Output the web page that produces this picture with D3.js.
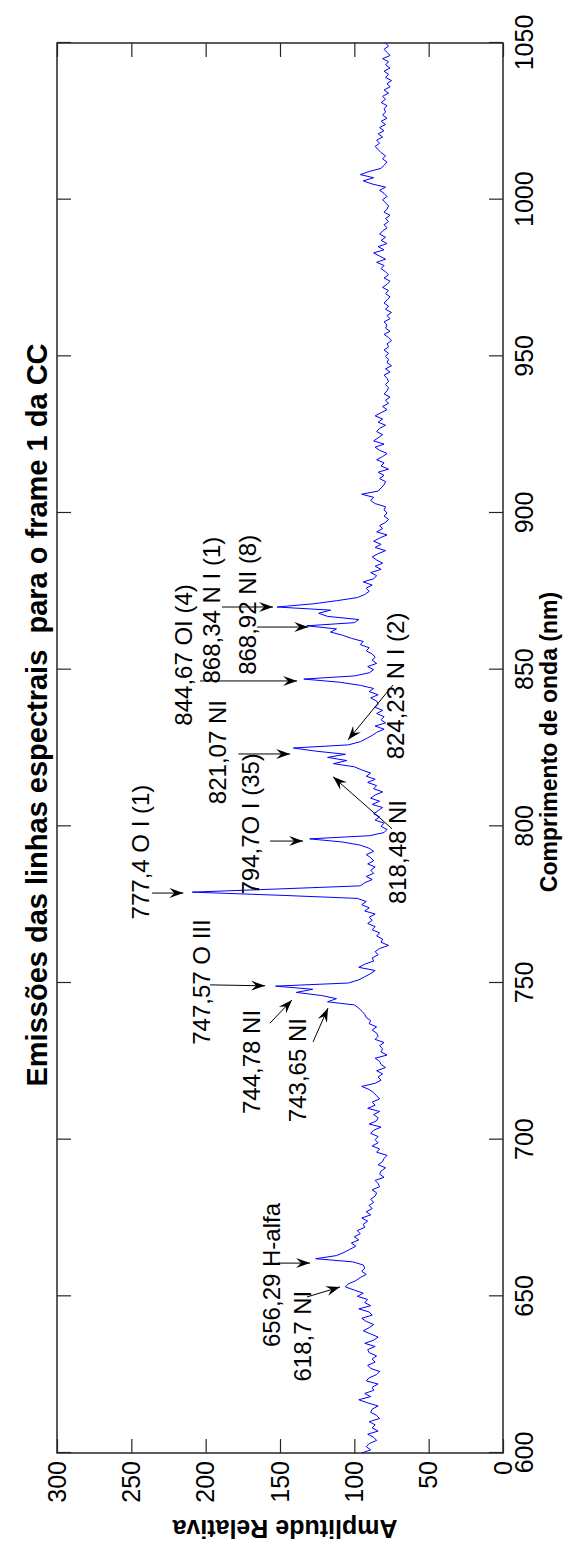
<!DOCTYPE html>
<html>
<head>
<meta charset="utf-8">
<script src="https://cdn.jsdelivr.net/npm/d3@7"></script>
<style>
  body { margin: 0; background: #fff; }
  svg { display: block; }
  text { font-family: "Liberation Sans", Arial, Helvetica, sans-serif; white-space: pre; }
</style>
</head>
<body>
<svg id="chart" width="569" height="1544"></svg>
<script>
// Spectrum sampled every 1 nm from 600 nm to 1050 nm
const startNm = 600;
const stepNm = 1;
const amplitude = [
  95, 89, 92, 90, 85, 87, 91, 84, 88, 86,
  90, 83, 85, 89, 88, 84, 91, 97, 89, 93,
  87, 88, 84, 92, 90, 85, 83, 89, 91, 86,
  88, 85, 90, 91, 86, 93, 87, 84, 89, 94,
  90, 87, 92, 95, 88, 90, 97, 89, 93, 91,
  98, 94, 100, 106, 104, 99, 96, 92, 95, 93,
  94, 101, 126, 112, 107, 103, 99, 102, 97, 100,
  96, 98, 93, 94, 91, 95, 89, 92, 88, 90,
  87, 89, 86, 85, 88, 83, 84, 86, 80, 83,
  82, 79, 84, 81, 80, 78, 85, 83, 88, 84,
  86, 84, 89, 87, 82, 90, 85, 84, 87, 83,
  91, 86, 88, 83, 85, 87, 90, 95, 86, 82,
  84, 81, 85, 79, 82, 83, 86, 78, 82, 81,
  83, 80, 86, 84, 85, 88, 85, 90, 89, 92,
  93, 95, 97, 100, 118, 112, 122, 139, 128, 153,
  104, 97, 93, 89, 86, 97, 93, 87, 88, 84,
  86, 83, 77, 82, 81, 85, 83, 88, 86, 91,
  88, 90, 86, 93, 90, 95, 92, 98, 150, 209,
  152, 96, 93, 88, 92, 87, 89, 86, 91, 87,
  89, 92, 87, 90, 96, 108, 130, 90, 80, 78,
  82, 80, 86, 83, 87, 84, 81, 88, 83, 89,
  86, 81, 87, 85, 91, 86, 92, 89, 95, 100,
  114, 105, 118, 106, 126, 141, 104, 96, 92, 88,
  85, 80, 86, 79, 82, 80, 85, 81, 86, 84,
  85, 89, 84, 90, 87, 96, 110, 134, 100, 90,
  87, 91, 85, 88, 86, 88, 92, 90, 96, 94,
  102, 108, 116, 112, 132, 100, 97, 118, 124, 116,
  152, 128, 112, 98, 93, 90, 92, 88, 94, 87,
  85, 89, 82, 86, 81, 85, 88, 84, 79, 86,
  82, 87, 83, 78, 85, 81, 83, 79, 77, 80,
  78, 80, 79, 86, 89, 87, 95, 84, 82, 80,
  79, 83, 80, 84, 77, 82, 80, 85, 81, 78,
  83, 86, 80, 87, 84, 81, 85, 83, 79, 84,
  81, 86, 82, 78, 81, 77, 79, 76, 80, 78,
  77, 79, 77, 78, 80, 76, 79, 75, 78, 77,
  79, 77, 80, 77, 78, 75, 77, 80, 76, 79,
  78, 80, 76, 78, 75, 79, 77, 80, 78, 76,
  79, 77, 81, 78, 76, 80, 77, 79, 82, 80,
  85, 79, 83, 87, 80, 84, 78, 82, 79, 83,
  81, 78, 80, 77, 79, 76, 80, 78, 77, 79,
  81, 78, 80, 83, 79, 88, 94, 87, 96, 90,
  82, 80, 78, 81, 79, 82, 84, 86, 83, 85,
  81, 84, 80, 83, 79, 82, 78, 81, 79, 80,
  78, 82, 79, 81, 77, 80, 76, 78, 75, 79,
  77, 80, 76, 79, 77, 81, 76, 78, 80, 77,
  79
];

const wavelengthTicks = [600, 650, 700, 750, 800, 850, 900, 950, 1000, 1050];
const amplitudeTicks = [0, 50, 100, 150, 200, 250, 300];

// Emission line labels: text centre, arrow tail and arrow head in (nm, amplitude)
const lineLabels = [
  "618,7 NI", "656,29 H-alfa", "743,65 NI", "744,78 NI", "747,57 O III",
  "777,4 O I (1)", "794,7O I (35)", "818,48 NI", "821,07 NI", "824,23 N I (2)",
  "844,67 OI (4)", "868,34 N I (1)", "868,92 NI (8)"
];
const labelCentre = [
  [637.3, 135], [656.8, 156], [722.2, 138], [724.8, 169], [750.3, 203],
  [791.8, 244], [800.8, 170], [791.8, 71], [823.7, 192], [844.8, 72.6],
  [854.7, 215], [869.0, 196], [870.7, 172]
];
const arrowTail = [
  [649.8, 131.8], [660.6, 151.3], [731.2, 127.8], [737.2, 156.7], [749.4, 197],
  [778.7, 236], [795.3, 156.7], [799.2, 74.6], [823.1, 178], [845.1, 74],
  [846.4, 203.8], [870.0, 189], [863.6, 165.4]
];
const arrowHead = [
  [653.0, 109.6], [660.6, 129.8], [742.0, 117.7], [744.6, 141.9], [749.1, 160],
  [778.7, 215], [795.3, 134.5], [815.8, 114.3], [823.1, 143.2], [827.6, 104.2],
  [846.4, 138.5], [870.0, 154.7], [863.6, 131]
];

const titleText = "Emissões das linhas espectrais  para o frame 1 da CC";
const xLabel = "Comprimento de onda (nm)";
const yLabel = "Amplitude Relativa";

// The chart is laid out landscape (W x H) and turned a quarter turn
const W = 1544, H = 569;
const frame = { left: 91, right: 1501, top: 57, bottom: 503 };

const svg = d3.select("#chart");
svg.append("rect").attr("width", 569).attr("height", 1544).attr("fill", "#fff");

const g = svg.append("g").attr("transform", `translate(0,${W}) rotate(-90)`);

const x = d3.scaleLinear().domain([600, 1050]).range([frame.left, frame.right]);
const y = d3.scaleLinear().domain([0, 300]).range([frame.bottom, frame.top]);

const frameColor = "#262626";
const tickLen = 14;
const fmt = d3.format("d");

// Arrow head marker
const defs = svg.append("defs");
defs.append("marker")
  .attr("id", "head")
  .attr("viewBox", "-15 -6 16 12")
  .attr("refX", 0).attr("refY", 0)
  .attr("markerWidth", 16).attr("markerHeight", 12)
  .attr("markerUnits", "userSpaceOnUse")
  .attr("orient", "auto")
  .append("path")
  .attr("d", "M0,0 L-14,-5 L-9,0 L-14,5 Z")
  .attr("fill", "#000");

// Axes with inward ticks on all four sides
const bottomAxis = d3.axisBottom(x).tickValues(wavelengthTicks).tickFormat(fmt).tickSizeInner(-tickLen).tickSizeOuter(0).tickPadding(12);
const topAxis = d3.axisTop(x).tickValues(wavelengthTicks).tickSizeInner(-tickLen).tickSizeOuter(0).tickFormat("");
const leftAxis = d3.axisLeft(y).tickValues(amplitudeTicks).tickFormat(fmt).tickSizeInner(-tickLen).tickSizeOuter(0).tickPadding(8);
const rightAxis = d3.axisRight(y).tickValues(amplitudeTicks).tickSizeInner(-tickLen).tickSizeOuter(0).tickFormat("");

function styleAxis(sel) {
  sel.select(".domain").remove();
  sel.selectAll(".tick line").attr("stroke", frameColor).attr("stroke-width", 1.2);
  sel.selectAll(".tick text")
    .attr("fill", "#000")
    .attr("font-size", 25)
    .attr("font-family", "'Liberation Sans', Arial, Helvetica, sans-serif");
}

g.append("g").attr("transform", `translate(0,${frame.bottom})`).call(bottomAxis).call(styleAxis);
g.append("g").attr("transform", `translate(0,${frame.top})`).call(topAxis).call(styleAxis);
g.append("g").attr("transform", `translate(${frame.left},0)`).call(leftAxis).call(styleAxis);
g.append("g").attr("transform", `translate(${frame.right},0)`).call(rightAxis).call(styleAxis);

// Box
g.append("rect")
  .attr("x", frame.left).attr("y", frame.top)
  .attr("width", frame.right - frame.left).attr("height", frame.bottom - frame.top)
  .attr("fill", "none").attr("stroke", frameColor).attr("stroke-width", 1.5);

// Spectrum
const series = amplitude.map((a, i) => [startNm + i * stepNm, a]);
g.append("path")
  .datum(series)
  .attr("fill", "none")
  .attr("stroke", "#0000ff")
  .attr("stroke-width", 1)
  .attr("stroke-linejoin", "round")
  .attr("d", d3.line().x(d => x(d[0])).y(d => y(d[1])));

// Emission line annotations
const ann = g.append("g");
lineLabels.forEach((label, i) => {
  ann.append("line")
    .attr("x1", x(arrowTail[i][0])).attr("y1", y(arrowTail[i][1]))
    .attr("x2", x(arrowHead[i][0])).attr("y2", y(arrowHead[i][1]))
    .attr("stroke", "#000").attr("stroke-width", 1)
    .attr("marker-end", "url(#head)");
  ann.append("text")
    .attr("x", x(labelCentre[i][0])).attr("y", y(labelCentre[i][1]))
    .attr("text-anchor", "middle")
    .attr("dominant-baseline", "central")
    .attr("font-size", 24)
    .attr("fill", "#000")
    .text(label);
});

// Title and axis labels
const midX = (frame.left + frame.right) / 2;
g.append("text")
  .attr("x", midX + 33)
  .attr("y", 47)
  .attr("text-anchor", "middle")
  .attr("font-size", 29)
  .attr("font-weight", "bold")
  .attr("fill", "#000")
  .text(titleText);

g.append("text")
  .attr("x", midX + 6)
  .attr("y", 557)
  .attr("text-anchor", "middle")
  .attr("font-size", 23)
  .attr("font-weight", "bold")
  .attr("fill", "#000")
  .text(xLabel);

g.append("text")
  .attr("transform", `translate(24,${(frame.top + frame.bottom) / 2 + 5}) rotate(-90)`)
  .attr("text-anchor", "middle")
  .attr("font-size", 25)
  .attr("font-weight", "bold")
  .attr("fill", "#000")
  .text(yLabel);
</script>
</body>
</html>
